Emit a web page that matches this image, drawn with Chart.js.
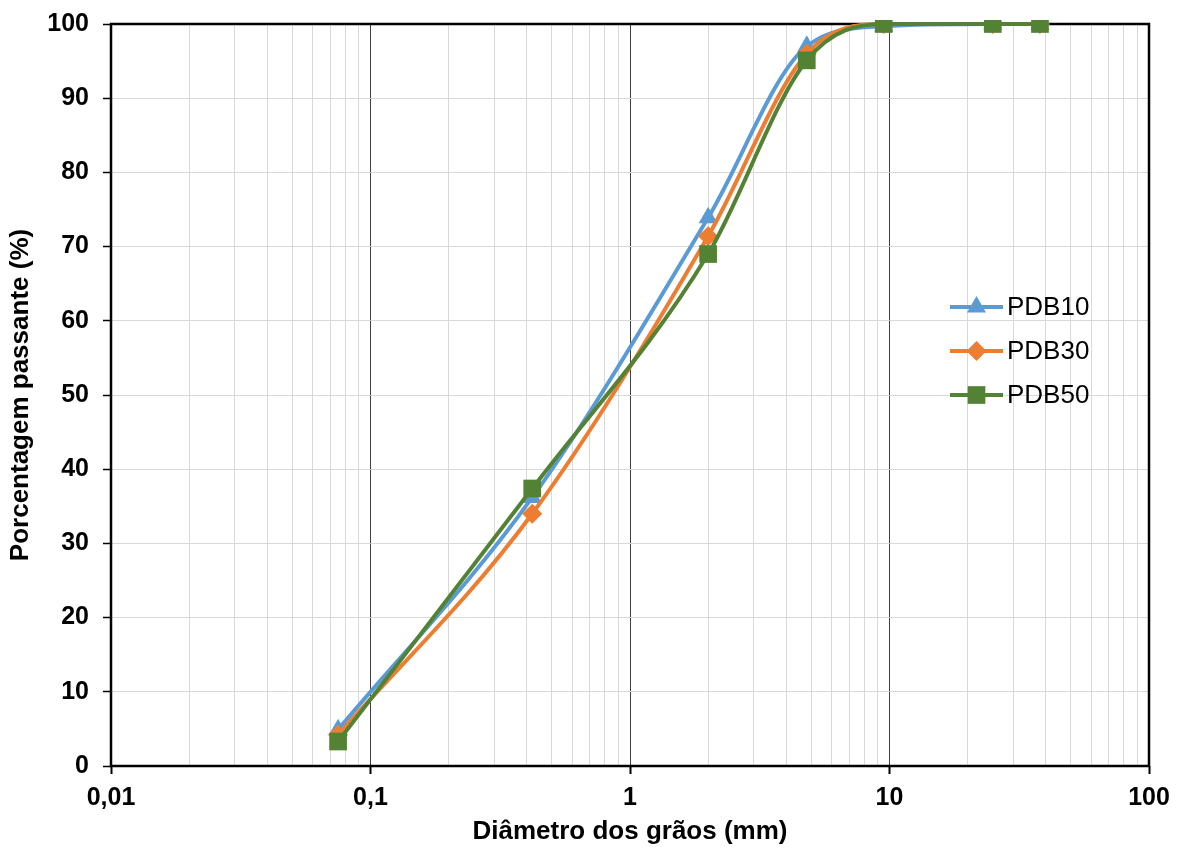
<!DOCTYPE html>
<html>
<head>
<meta charset="utf-8">
<script src="https://cdn.jsdelivr.net/npm/chart.js@4"></script>
<style>
  html, body { margin: 0; padding: 0; background: #fff; }
  #wrap { width: 1184px; height: 847px; }
</style>
</head>
<body>
<div id="wrap"><canvas id="grainChart"></canvas></div>
<script>
// sieve openings (mm)
const diameters = [0.075, 0.42, 2.0, 4.8, 9.5, 25, 38];
const pdb10 = [4.9, 36.2, 73.9, 97.0, 99.7, 100, 100];
const pdb30 = [4.2, 34.0, 71.4, 96.0, 100, 100, 100];
const pdb50 = [3.3, 37.4, 69.0, 95.1, 100, 100, 100];
const seriesNames = ["PDB10", "PDB30", "PDB50"];
const seriesColors = ["#5B9BD5", "#ED7D31", "#548235"];
const seriesMarkers = ["triangle", "rectRot", "rect"];
const markerSizes = [11, 10, 12.5];
const xTickValues = [];
for (let e = -2; e <= 1; e++) {
    for (let m = 1; m <= 9; m++) xTickValues.push(+(m * Math.pow(10, e)).toPrecision(3));
}
xTickValues.push(100);

function isDecade(v) {
    const l = Math.log10(v);
    return Math.abs(l - Math.round(l)) < 1e-9;
}

function toPoints(ys) {
    return diameters.map((d, i) => ({ x: d, y: ys[i] }));
}

const allSeries = [pdb10, pdb30, pdb50];
const datasets = allSeries.map((ys, i) => ({
    label: seriesNames[i],
    data: toPoints(ys),
    borderColor: seriesColors[i],
    backgroundColor: seriesColors[i],
    pointBackgroundColor: seriesColors[i],
    pointBorderColor: seriesColors[i],
    pointBorderWidth: 0,
    pointStyle: seriesMarkers[i],
    pointRadius: markerSizes[i],
    borderWidth: 4,
    cubicInterpolationMode: "monotone",
    order: 2 - i,
    clip: 4
}));

// frame round the plot area
const frame = {
    id: "frame",
    beforeDatasetsDraw(chart) {
        const a = chart.chartArea;
        const ctx = chart.ctx;
        ctx.save();
        ctx.strokeStyle = "#000";
        ctx.lineWidth = 2.5;
        ctx.strokeRect(a.left, a.top, a.right - a.left, a.bottom - a.top);
        ctx.restore();
    }
};

// legend drawn inside the plot like the original
const sideLegend = {
    id: "sideLegend",
    afterDraw(chart) {
        const ctx = chart.ctx;
        const x0 = 950, x1 = 1003;
        const rows = [307, 351, 395];
        ctx.save();
        seriesNames.forEach((name, i) => {
            const y = rows[i];
            ctx.strokeStyle = seriesColors[i];
            ctx.lineWidth = 4;
            ctx.beginPath();
            ctx.moveTo(x0, y);
            ctx.lineTo(x1, y);
            ctx.stroke();
            ctx.fillStyle = seriesColors[i];
            ctx.strokeStyle = seriesColors[i];
            Chart.helpers.drawPoint(ctx, {
                pointStyle: seriesMarkers[i],
                radius: markerSizes[i],
                borderWidth: 0,
                rotation: 0
            }, (x0 + x1) / 2, y);
            ctx.fillStyle = "#000";
            ctx.font = "26px 'Liberation Sans', Arial, sans-serif";
            ctx.textBaseline = "middle";
            ctx.fillText(name, 1007, y + 1);
        });
        ctx.restore();
    }
};

const tickFont = { family: "'Liberation Sans', Arial, sans-serif", size: 25, weight: "bold" };
const titleFont = { family: "'Liberation Sans', Arial, sans-serif", size: 26, weight: "bold" };

new Chart(document.getElementById("grainChart"), {
    type: "line",
    data: { datasets: datasets },
    options: {
        responsive: true,
        maintainAspectRatio: false,
        animation: false,
        layout: { padding: { top: 24, right: 35, left: 0, bottom: 0 } },
        plugins: {
            legend: { display: false },
            tooltip: { enabled: false }
        },
        scales: {
            x: {
                type: "logarithmic",
                min: 0.01,
                max: 100,
                afterBuildTicks: (scale) => {
                    scale.ticks = xTickValues.map(v => ({ value: v, major: isDecade(v) }));
                },
                afterFit: (scale) => { scale.height = 81; },
                border: { display: false },
                grid: {
                    color: (ctx) => ctx.tick && isDecade(ctx.tick.value) ? "#404040" : "#D9D9D9",
                    lineWidth: 1,
                    tickLength: 8,
                    tickColor: (ctx) => ctx.tick && isDecade(ctx.tick.value) ? "#000" : "rgba(0,0,0,0)",
                    tickWidth: 2
                },
                ticks: {
                    autoSkip: false,
                    maxRotation: 0,
                    padding: 9,
                    color: "#000",
                    font: tickFont,
                    callback: (v) => isDecade(v) ? String(v).replace(".", ",") : ""
                },
                title: {
                    display: true,
                    text: "Diâmetro dos grãos (mm)",
                    color: "#000",
                    font: titleFont,
                    padding: { top: 0, bottom: 0 }
                }
            },
            y: {
                min: 0,
                max: 100,
                afterFit: (scale) => {
                    scale.width = 111;
                    scale.paddingTop = 0;
                    scale.paddingBottom = 0;
                },
                border: { display: false },
                grid: {
                    color: "#D9D9D9",
                    lineWidth: 1,
                    tickLength: 8,
                    tickColor: "#000",
                    tickWidth: 1.5
                },
                ticks: {
                    stepSize: 10,
                    padding: 14,
                    color: "#000",
                    font: tickFont
                },
                title: {
                    display: true,
                    text: "Porcentagem passante (%)",
                    color: "#000",
                    font: titleFont,
                    padding: { top: 5, bottom: 0 }
                }
            }
        }
    },
    plugins: [frame, sideLegend]
});
</script>
</body>
</html>
